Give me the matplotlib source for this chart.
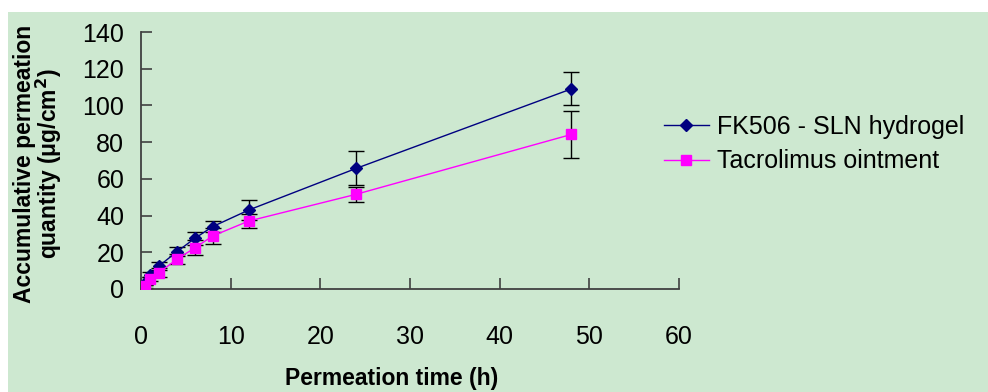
import numpy as np
import matplotlib.pyplot as plt
from matplotlib.patches import Rectangle

# permeation data
time_h = [0.5, 1, 2, 4, 6, 8, 12, 24, 48]
sln_gel = [3.0, 7.8, 12.5, 20.3, 27.6, 34.0, 43.0, 65.7, 109.0]
sln_err = [1.0, 1.5, 2.0, 2.5, 3.4, 3.2, 5.3, 9.3, 9.0]
ointment = [1.6, 5.3, 8.9, 16.2, 22.4, 28.9, 37.0, 51.6, 84.2]
oint_err = [0.8, 1.2, 2.5, 2.8, 4.1, 4.4, 4.0, 4.0, 12.7]

x_ticks = [0, 10, 20, 30, 40, 50, 60]
y_ticks = [0, 20, 40, 60, 80, 100, 120, 140]

plt.rcParams['font.family'] = ['Liberation Sans', 'DejaVu Sans']

bg = '#cde8d0'
fig = plt.figure(figsize=(9.88, 3.92), dpi=100, facecolor='white')
# green panel (white strip at top/left like the original)
fig.patches.append(Rectangle((8 / 988, 0), 1, 1 - 12 / 392, transform=fig.transFigure,
                             facecolor=bg, edgecolor='none', zorder=-10))

ax = fig.add_axes([141 / 988, 103 / 392, 538 / 988, 257 / 392])
ax.set_facecolor('none')

# error bars
ax.errorbar(time_h, sln_gel, yerr=sln_err, fmt='none', ecolor='black',
            elinewidth=1.0, capsize=6, capthick=1.0, zorder=2)
ax.errorbar(time_h, ointment, yerr=oint_err, fmt='none', ecolor='black',
            elinewidth=1.0, capsize=6, capthick=1.0, zorder=2)
# series
ax.plot(time_h, sln_gel, color='#000080', lw=1.0, marker='D', ms=6,
        label='FK506 - SLN hydrogel', zorder=3)
ax.plot(time_h, ointment, color='#ff00ff', lw=1.0, marker='s', ms=7,
        label='Tacrolimus ointment', zorder=3)

ax.set_xlim(0, 60)
ax.set_ylim(0, 140)
ax.set_xticks(x_ticks)
ax.set_yticks(y_ticks)

for s in ['top', 'right']:
    ax.spines[s].set_visible(False)
for s in ['left', 'bottom']:
    ax.spines[s].set_color('#404040')
    ax.spines[s].set_linewidth(1.3)

ax.tick_params(axis='both', direction='in', length=8, width=1.2, color='#404040', labelsize=18)
ax.tick_params(axis='x', pad=26)
ax.tick_params(axis='y', pad=12)

fig.text(392 / 988, 1 - 378 / 392, 'Permeation time (h)', ha='center', va='center',
         fontsize=16.5, fontweight='bold')
fig.text(25 / 988, 1 - 164 / 392, 'Accumulative permeation', ha='center', va='center',
         rotation=90, fontsize=16.5, fontweight='bold')
fig.text(49 / 988, 1 - 164 / 392, 'quantity (μg/cm$^\\mathbf{2}$)', ha='center', va='center',
         rotation=90, fontsize=16.5, fontweight='bold')

leg = ax.legend(loc='center left', bbox_to_anchor=(641 / 988, 1 - 144 / 392),
                bbox_transform=fig.transFigure, frameon=False, fontsize=18,
                handlelength=1.8, handletextpad=0.35, labelspacing=0.42)

fig.savefig('out.png', dpi=100, facecolor=fig.get_facecolor())
